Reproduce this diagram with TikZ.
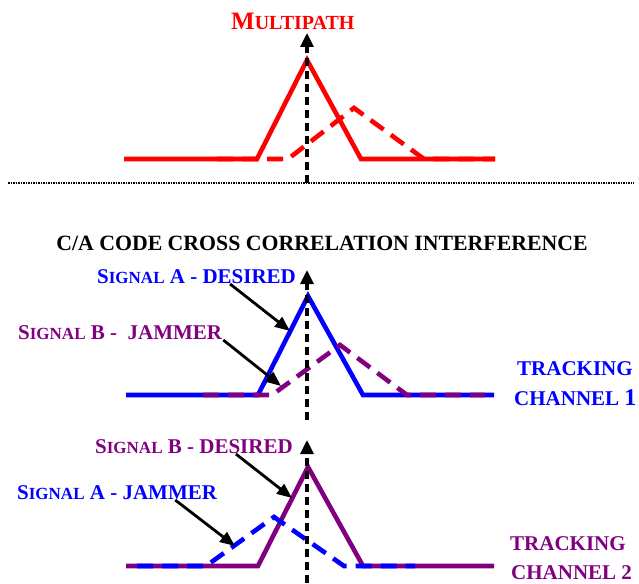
\documentclass[tikz,border=0pt]{standalone}
\usepackage{fontspec}
\setmainfont{Liberation Serif}
\usetikzlibrary{arrows.meta}

\definecolor{trackred}{RGB}{255,0,0}
\definecolor{trackblue}{RGB}{0,0,255}
\definecolor{trackpurple}{RGB}{128,0,128}

\newcommand\smallcapword[2]{#1{\fontsize{17}{17}\selectfont #2}}

\tikzset{
  lbl/.style={font=\bfseries\fontsize{21}{21}\selectfont, inner sep=0pt, anchor=base west},
  corrline/.style={line width=4.6pt},
  jamline/.style={line width=4.6pt, dash pattern=on 16pt off 9pt},
  axisline/.style={line width=3.2pt, dash pattern=on 8pt off 5pt, -{Triangle[length=14pt,width=13pt]}},
  pointer/.style={line width=2.8pt, -{Triangle[length=15pt,width=12pt]}},
}

\begin{document}
\begin{tikzpicture}[x=1pt, y=-1pt]
  \useasboundingbox (0,0) rectangle (639,583);

  \node[lbl, text=trackred, font=\bfseries\fontsize{25}{25}\selectfont] (multipath) at (231,30)
    {M{\fontsize{20}{20}\selectfont ULTIPATH}};
  \draw[jamline, trackred] (217,159) -- (288,159) -- (354,108) -- (424,159) -- (495,159);
  \draw[corrline, trackred] (124,159) -- (257,159) -- (307,60) -- (361,159) -- (495,159);
  \draw[line width=2.4pt, dash pattern=on 1.6pt off 0.9pt] (8,183) -- (634,183);
  \draw[axisline] (307,183) -- (307,33);

  \node[lbl, anchor=base, font=\bfseries\fontsize{21.8}{22}\selectfont] (title) at (322,250)
    {C/A CODE CROSS CORRELATION INTERFERENCE};

  \node[lbl, text=trackblue] (sigAdes) at (97,283) {\smallcapword{S}{IGNAL} A - DESIRED};
  \node[lbl, text=trackpurple] (sigBjam) at (18,339) {\smallcapword{S}{IGNAL} B -\ \ JAMMER};
  \node[lbl, text=trackblue] (track1) at (517,375) {TRACKING};
  \node[lbl, text=trackblue] (chan1) at (514,405) {CHANNEL {\fontsize{24}{24}\selectfont 1}};
  \draw[corrline, trackblue] (126,395) -- (258,395) -- (308,296) -- (363,395) -- (494,395);
  \draw[jamline, trackpurple] (203,395) -- (272,395) -- (340,345) -- (407,395) -- (485,395);
  \draw[axisline] (307,420) -- (307,270);
  \coordinate (hitAdes) at (290,331);
  \coordinate (hitBjam) at (281,386);
  \draw[pointer] ([xshift=-66pt, yshift=-1pt]sigAdes.base east) -- (hitAdes);
  \draw[pointer] ([xshift=1pt, yshift=-1pt]sigBjam.base east) -- (hitBjam);

  \node[lbl, text=trackpurple] (sigBdes) at (95,453) {\smallcapword{S}{IGNAL} B - DESIRED};
  \node[lbl, text=trackblue] (sigAjam) at (17,499) {\smallcapword{S}{IGNAL} A - JAMMER};
  \node[lbl, text=trackpurple] (track2) at (510,550) {TRACKING};
  \node[lbl, text=trackpurple] (chan2) at (511,579) {CHANNEL 2};
  \draw[corrline, trackpurple] (126,566) -- (258,566) -- (308,467) -- (363,566) -- (494,566);
  \draw[jamline, trackblue] (137,566) -- (206,566) -- (274,517) -- (344,566) -- (415,566);
  \draw[axisline] (307,583) -- (307,440);
  \coordinate (hitBdes) at (292,498);
  \coordinate (hitAjam) at (235,546);
  \draw[pointer] ([xshift=-57pt, yshift=-1pt]sigBdes.base east) -- (hitBdes);
  \draw[pointer] ([xshift=-42pt, yshift=-1pt]sigAjam.base east) -- (hitAjam);
\end{tikzpicture}
\end{document}
